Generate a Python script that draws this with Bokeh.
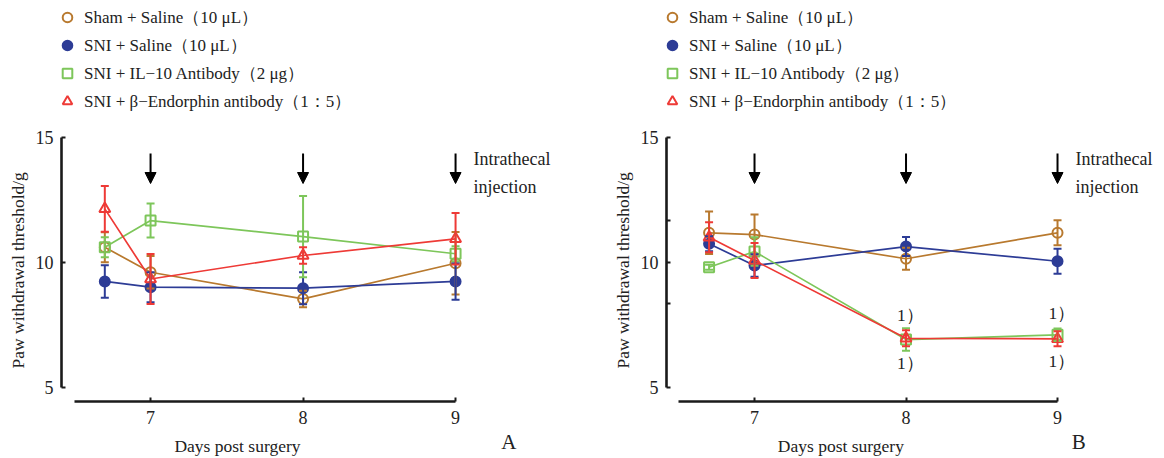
from bokeh.plotting import figure
from bokeh.layouts import row, column
from bokeh.models import (Range1d, FixedTicker, Whisker, TeeHead, ColumnDataSource,
                          Legend, LegendItem, Arrow, NormalHead, Label, Title)
from bokeh.core.properties import value
from bokeh.embed import file_html
from bokeh.resources import INLINE

# ---------------- data ----------------
days = [6.7, 7, 8, 9]          # first point = baseline before injections
tick_days = [7, 8, 9]
y_ticks = [5, 10, 15]
arrow_days = [7, 8, 9]

names = ["Sham + Saline（10 μL）",
         "SNI + Saline（10 μL）",
         "SNI + IL−10 Antibody（2 μg）",
         "SNI + β−Endorphin antibody（1：5）"]
colors = ["#B8792E", "#2D3C96", "#7DC65A", "#EE3A36"]
markers = ["circle", "circle", "square", "triangle"]
filled = [False, True, False, False]

# Panel A
sham_A = [10.60, 9.60, 8.53, 9.96]
sham_A_err = [0.60, 0.65, 0.33, 1.25]
sni_A = [9.23, 9.00, 8.96, 9.23]
sni_A_err = [0.65, 0.60, 0.64, 0.73]
il10_A = [10.60, 11.67, 11.03, 10.34]
il10_A_err = [0.40, 0.68, 1.63, 0.30]
endo_A = [12.14, 9.33, 10.27, 10.94]
endo_A_err = [0.92, 1.00, 0.33, 1.03]

# Panel B
sham_B = [11.18, 11.11, 10.14, 11.18]
sham_B_err = [0.85, 0.80, 0.44, 0.50]
sni_B = [10.74, 9.87, 10.63, 10.04]
sni_B_err = [0.30, 0.45, 0.38, 0.50]
il10_B = [9.80, 10.43, 6.90, 7.09]
il10_B_err = [0.10, 0.57, 0.45, 0.25]
endo_B = [11.00, 10.07, 6.95, 6.93]
endo_B_err = [0.60, 0.70, 0.32, 0.30]

sig_days_B = [8, 9]            # days marked "1）" in panel B

x_title = "Days post surgery"
y_title = "Paw withdrawal threshold/g"
note_lines = ["Intrathecal", "injection"]

SERIF = "Liberation Serif"
FONT = value(SERIF)
INK = "#222222"
FRAME_LEFT = 61
FRAME_H = 401
BOTTOM = 27
STRIP_H = 458 - FRAME_H - BOTTOM
PPU = 24.95                    # pixels per threshold unit
Y0 = 4.419


def make_panel(means, errs, width, x_start, ppd, minor=None, sig=False):
    x_end = x_start + (width - FRAME_LEFT) / ppd
    y_end = Y0 + FRAME_H / PPU
    p = figure(width=width, height=FRAME_H + BOTTOM, output_backend="svg",
               toolbar_location=None, x_range=Range1d(x_start, x_end),
               y_range=Range1d(Y0, y_end), min_border_left=FRAME_LEFT,
               min_border_right=0, min_border_top=0, min_border_bottom=BOTTOM)
    p.outline_line_color = None
    p.grid.visible = False
    p.background_fill_color = "white"
    p.border_fill_color = "white"

    for ax in (p.xaxis[0], p.yaxis[0]):
        ax.axis_line_width = 2.6
        ax.axis_line_color = "#1a1a1a"
        ax.major_tick_line_color = "#1a1a1a"
        ax.major_tick_line_width = 2
        ax.major_tick_in = 4
        ax.major_tick_out = 0
        ax.minor_tick_in = 4
        ax.minor_tick_out = 0
        ax.minor_tick_line_width = 2
        ax.minor_tick_line_color = "#1a1a1a"
        ax.major_label_text_font = SERIF
        ax.major_label_text_font_size = "18px"
        ax.major_label_text_color = INK
    p.xaxis.bounds = (6.5, 9)
    p.xaxis.ticker = FixedTicker(ticks=tick_days)
    p.xaxis.major_label_standoff = 9
    p.yaxis.bounds = (5, 15)
    p.yaxis.ticker = FixedTicker(ticks=y_ticks, minor_ticks=(minor or []))
    if not minor:
        p.yaxis.minor_tick_line_color = None
    p.yaxis.major_label_standoff = 8

    p.add_layout(Title(text=y_title, align="left", offset=33, standoff=9,
                       text_font=SERIF, text_font_size="17.5px",
                       text_font_style="normal", text_color=INK), "left")

    items = []
    for name, col, mk, fl, m, e in zip(names, colors, markers, filled, means, errs):
        src = ColumnDataSource(dict(x=days, y=m,
                                    upper=[a + b for a, b in zip(m, e)],
                                    lower=[a - b for a, b in zip(m, e)]))
        p.line("x", "y", source=src, line_color=col, line_width=1.7)
        w = Whisker(source=src, base="x", upper="upper", lower="lower",
                    dimension="height", line_color=col, line_width=2,
                    upper_head=TeeHead(size=8, line_color=col, line_width=2),
                    lower_head=TeeHead(size=8, line_color=col, line_width=2),
                    level="glyph")
        p.add_layout(w)
        size = 11 if mk == "triangle" else 10
        r = p.scatter("x", "y", source=src, marker=mk, size=size, line_color=col,
                      line_width=2, fill_color=col if fl else "white",
                      fill_alpha=1.0 if fl else 0.0)
        items.append(LegendItem(label=name, renderers=[r]))

    leg = Legend(items=items, location=(-6, 288), orientation="vertical",
                 glyph_width=24, glyph_height=24, label_height=24, spacing=4,
                 padding=0, margin=0, label_standoff=5,
                 label_text_font=SERIF, label_text_font_size="17px",
                 label_text_color=INK, border_line_color=None,
                 background_fill_alpha=0)
    p.add_layout(leg, "center")

    for d in arrow_days:
        p.add_layout(Arrow(x_start=d, y_start=15 - 16 / PPU, x_end=d, y_end=15 - 46 / PPU,
                           line_color="black", line_width=2,
                           end=NormalHead(size=11, fill_color="black", line_color="black",
                                          line_width=1)))
    for txt, yy in zip(note_lines, (14.12, 13.0)):
        p.add_layout(Label(x=arrow_days[-1], y=yy, x_offset=18, text=txt, text_font=SERIF,
                           text_font_size="18px", text_color=INK,
                           text_baseline="middle", text_align="left"))

    if sig:
        idx = [days.index(d) for d in sig_days_B]
        mid = [(means[2][i] + means[3][i]) / 2 for i in idx]
        for off in (-24, 24):
            p.text(x=sig_days_B, y=mid, text=["1）"] * len(idx), y_offset=off, x_offset=-9,
                   text_font=FONT, text_font_size="17.5px", text_color=INK,
                   text_align="left", text_baseline="middle")
    return p


def make_strip(panel, width, letter, letter_x):
    s = figure(width=width, height=STRIP_H, output_backend="svg", toolbar_location=None,
               x_range=panel.x_range, y_range=Range1d(0, STRIP_H),
               x_axis_location=None, y_axis_location=None,
               min_border_left=FRAME_LEFT, min_border_right=0,
               min_border_top=0, min_border_bottom=0)
    s.outline_line_color = None
    s.grid.visible = False
    s.text(x=[7.57], y=[STRIP_H - 17], text=[x_title], text_font=FONT,
           text_font_size="17.5px", text_color=INK, text_align="center",
           text_baseline="middle")
    s.text(x=[letter_x], y=[STRIP_H - 13], text=[letter], text_font=FONT,
           text_font_size="21px", text_color=INK, text_align="center",
           text_baseline="middle")
    return s


pA = make_panel([sham_A, sni_A, il10_A, endo_A],
                [sham_A_err, sni_A_err, il10_A_err, endo_A_err],
                605, 6.416, 152.5)
pB = make_panel([sham_B, sni_B, il10_B, endo_B],
                [sham_B_err, sni_B_err, il10_B_err, endo_B_err],
                559, 6.419, 151.5, minor=[8.33, 11.67], sig=True)
sA = make_strip(pA, 605, "A", 9.35)
sB = make_strip(pB, 559, "B", 9.14)

layout = column(row(pA, pB), row(sA, sB))
open("out.html", "w").write(file_html(layout, INLINE))
